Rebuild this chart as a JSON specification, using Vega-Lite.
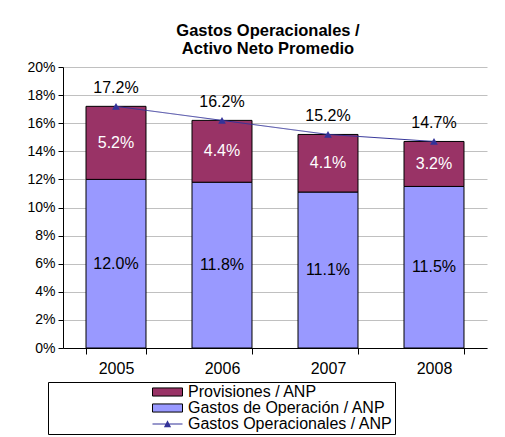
{
  "$schema": "https://vega.github.io/schema/vega-lite/v6.json",
  "width": 424,
  "height": 281,
  "autosize": {"type": "none"},
  "padding": {"left": 63, "top": 67, "right": 18, "bottom": 89},
  "background": "white",
  "config": {
    "font": "Liberation Sans",
    "view": {"stroke": null},
    "axisX": {
      "title": null, "labelAngle": 0, "labelFontSize": 16, "labelColor": "black",
      "domainColor": "black", "tickColor": "black", "tickSize": 6, "tickBand": "extent",
      "labelPadding": 6, "grid": false
    },
    "axisY": {
      "title": null, "labelOverlap": false,
      "labelFontSize": 14, "labelColor": "black", "domainColor": "black",
      "tickColor": "black", "tickSize": 5, "labelPadding": 3,
      "grid": true, "gridColor": "#c0c0c0"
    }
  },
  "title": {
    "text": ["Gastos Operacionales /", "Activo Neto Promedio"],
    "fontSize": 16.5, "fontWeight": "bold", "font": "Liberation Sans", "color": "black",
    "anchor": "middle", "dx": -7, "offset": 3, "lineHeight": 17.5
  },
  "datasets": {
    "bars": [
      {"year": "2005", "serie": "Gastos de Operación / ANP", "value": 0.120},
      {"year": "2005", "serie": "Provisiones / ANP", "value": 0.052},
      {"year": "2006", "serie": "Gastos de Operación / ANP", "value": 0.118},
      {"year": "2006", "serie": "Provisiones / ANP", "value": 0.044},
      {"year": "2007", "serie": "Gastos de Operación / ANP", "value": 0.111},
      {"year": "2007", "serie": "Provisiones / ANP", "value": 0.041},
      {"year": "2008", "serie": "Gastos de Operación / ANP", "value": 0.115},
      {"year": "2008", "serie": "Provisiones / ANP", "value": 0.032}
    ],
    "totals": [
      {"year": "2005", "total": 0.172},
      {"year": "2006", "total": 0.162},
      {"year": "2007", "total": 0.152},
      {"year": "2008", "total": 0.147}
    ]
  },
  "layer": [
    {
      "data": {"name": "bars"},
      "mark": {"type": "bar", "stroke": "black", "strokeWidth": 1},
      "encoding": {
        "x": {
          "field": "year", "type": "nominal",
          "scale": {"paddingInner": 0.434, "paddingOuter": 0.217}
        },
        "y": {
          "field": "value", "type": "quantitative", "stack": "zero",
          "scale": {"domain": [0, 0.2], "nice": false},
          "axis": {"format": ".0%", "values": [0, 0.02, 0.04, 0.06, 0.08, 0.1, 0.12, 0.14, 0.16, 0.18, 0.2]}
        },
        "order": {"field": "serie", "sort": "ascending"},
        "color": {
          "field": "serie", "type": "nominal",
          "scale": {
            "domain": ["Provisiones / ANP", "Gastos de Operación / ANP"],
            "range": ["#993366", "#9999ff"]
          },
          "legend": {
            "orient": "none", "legendX": -15, "legendY": 315,
            "title": null,
            "padding": 2,
            "labelFontSize": 16, "labelColor": "black", "labelOffset": 5, "labelLimit": 400,
            "symbolOffset": 102, "clipHeight": 16,
            "symbolSize": 900, "rowPadding": 0,
            "symbolType": "M-1,-0.27H1V0.27H-1Z",
            "symbolStrokeColor": "black",
            "symbolStrokeWidth": 1
          }
        }
      }
    },
    {
      "data": {"name": "bars"},
      "transform": [
        {"stack": "value", "groupby": ["year"], "sort": [{"field": "serie", "order": "ascending"}], "as": ["v0", "v1"]},
        {"calculate": "(datum.v0 + datum.v1) / 2", "as": "mid"}
      ],
      "mark": {"type": "text", "fontSize": 16, "baseline": "middle", "align": "center"},
      "encoding": {
        "x": {"field": "year", "type": "nominal"},
        "y": {"field": "mid", "type": "quantitative", "axis": {"format": ".0%", "values": [0, 0.02, 0.04, 0.06, 0.08, 0.1, 0.12, 0.14, 0.16, 0.18, 0.2]}},
        "text": {"field": "value", "type": "quantitative", "format": ".1%"},
        "color": {"condition": {"test": "datum.serie === 'Provisiones / ANP'", "value": "white"}, "value": "black"}
      }
    },
    {
      "data": {"name": "totals"},
      "mark": {"type": "line", "strokeWidth": 1, "color": "#333399", "point": {"shape": "triangle-up", "size": 60, "filled": true, "color": "#333399"}},
      "encoding": {
        "x": {"field": "year", "type": "nominal"},
        "y": {"field": "total", "type": "quantitative", "axis": {"format": ".0%", "values": [0, 0.02, 0.04, 0.06, 0.08, 0.1, 0.12, 0.14, 0.16, 0.18, 0.2]}},
        "strokeDash": {
          "datum": "Gastos Operacionales / ANP", "type": "nominal",
          "scale": {"range": [[1, 0]]},
          "legend": {
            "orient": "none", "legendX": -15, "legendY": 315,
            "title": "\u00a0", "titleOrient": "top", "titleFontSize": 16, "titlePadding": 16,
            "padding": 2, "strokeColor": "black",
            "labelFontSize": 16, "labelColor": "black", "labelOffset": 5, "labelLimit": 600,
            "labelExpr": "datum.label + '\u00a0\u00a0\u00a0\u00a0\u00a0\u00a0\u00a0\u00a0\u00a0\u00a0\u00a0\u00a0\u00a0\u00a0\u00a0\u00a0\u00a0\u00a0\u00a0\u00a0\u00a0\u00a0\u00a0'",
            "symbolOffset": 102, "clipHeight": 16,
            "symbolSize": 900, "rowPadding": 0,
            "symbolType": "M-1,-0.035H1V0.035H-1ZM-0.24,0.21L0,-0.25L0.24,0.21Z",
            "symbolStrokeColor": "#333399",
            "symbolFillColor": "#333399",
            "symbolStrokeWidth": 1
          }
        }
      }
    },
    {
      "data": {"name": "totals"},
      "mark": {"type": "text", "fontSize": 16, "baseline": "alphabetic", "align": "center", "dy": -13, "color": "black"},
      "encoding": {
        "x": {"field": "year", "type": "nominal"},
        "y": {"field": "total", "type": "quantitative", "axis": {"format": ".0%", "values": [0, 0.02, 0.04, 0.06, 0.08, 0.1, 0.12, 0.14, 0.16, 0.18, 0.2]}},
        "text": {"field": "total", "type": "quantitative", "format": ".1%"}
      }
    }
  ]
}
